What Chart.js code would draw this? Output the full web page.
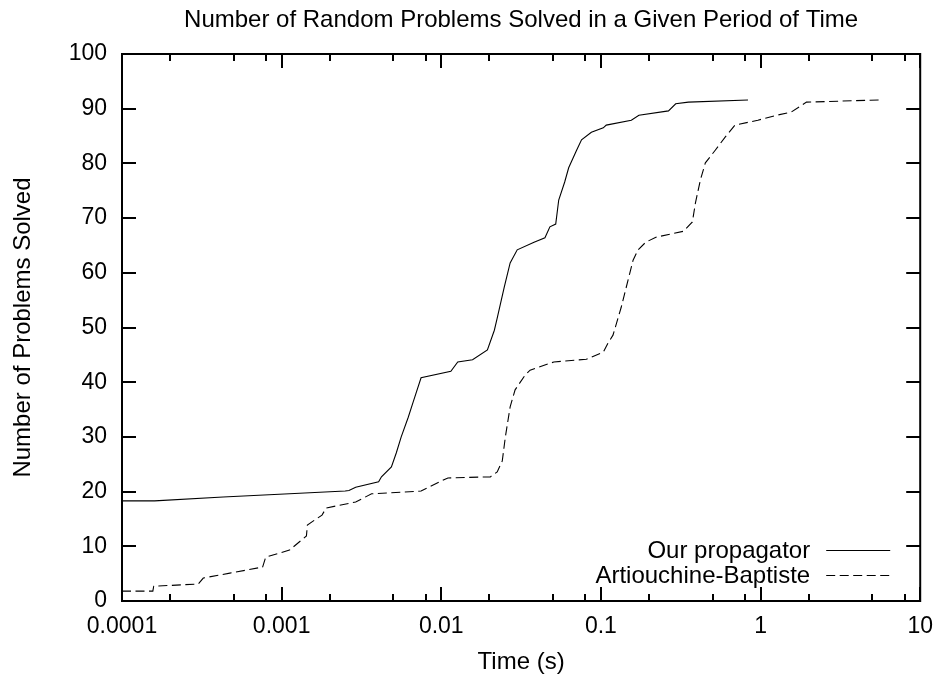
<!DOCTYPE html>
<html><head><meta charset="utf-8">
<script src="https://cdn.jsdelivr.net/npm/chart.js@4.4.0/dist/chart.umd.min.js"></script>
<style>html,body{margin:0;padding:0;background:#fff;} #wrap{width:945px;height:677px;position:relative;}</style>
</head><body><div id="wrap"><canvas id="c" width="945" height="677"></canvas></div>
<script>
const chartTitle = "Number of Random Problems Solved in a Given Period of Time";
const xAxisTitle = "Time (s)";
const yAxisTitle = "Number of Problems Solved";
const seriesNames = ["Our propagator", "Artiouchine-Baptiste"];

const oursTime = [0.0001, 0.00016, 0.00043, 0.00112, 0.0025, 0.00264, 0.00291, 0.00405, 0.00422, 0.00487, 0.00523, 0.00561, 0.00621, 0.00667, 0.00747, 0.01148, 0.01268, 0.0157, 0.01945, 0.0215, 0.0224, 0.0248, 0.0270, 0.0299, 0.0381, 0.0446, 0.0479, 0.0521, 0.0544, 0.0593, 0.0628, 0.0704, 0.0756, 0.0871, 0.1035, 0.108, 0.155, 0.173, 0.265, 0.294, 0.353, 0.834];
const oursSolved = [18.3, 18.3, 19.0, 19.6, 20.1, 20.2, 20.8, 21.8, 22.7, 24.5, 27.1, 30.0, 33.6, 36.4, 40.8, 42.0, 43.7, 44.1, 45.9, 49.5, 51.7, 57.4, 61.8, 64.2, 65.6, 66.4, 68.4, 68.9, 73.3, 76.6, 79.2, 82.4, 84.3, 85.7, 86.5, 87.0, 87.9, 88.8, 89.6, 90.9, 91.2, 91.6];

const abTime = [0.0001, 0.000156, 0.000158, 0.000300, 0.000323, 0.000474, 0.00076, 0.000794, 0.00112, 0.00143, 0.00145, 0.00179, 0.00190, 0.00291, 0.00366, 0.00747, 0.00995, 0.0110, 0.0203, 0.0224, 0.0241, 0.0252, 0.0270, 0.0290, 0.0335, 0.0360, 0.0507, 0.081, 0.1035, 0.111, 0.119, 0.134, 0.148, 0.159, 0.171, 0.191, 0.221, 0.329, 0.374, 0.391, 0.420, 0.451, 0.520, 0.600, 0.692, 0.962, 1.26, 1.56, 1.94, 5.65];
const abSolved = [1.8, 1.8, 2.7, 3.1, 4.2, 5.1, 6.2, 8.0, 9.3, 11.9, 13.9, 15.7, 17.0, 18.1, 19.6, 20.1, 21.9, 22.5, 22.7, 23.6, 25.6, 30.0, 35.5, 38.6, 41.3, 42.2, 43.7, 44.2, 45.5, 47.2, 48.6, 53.7, 58.7, 62.3, 64.2, 65.6, 66.5, 67.6, 69.3, 72.8, 77.0, 80.1, 82.4, 84.8, 87.0, 87.9, 88.8, 89.4, 91.2, 91.6];

const xTickValues = [0.0001, 0.001, 0.01, 0.1, 1, 10];
const xTickLabels = ["0.0001", "0.001", "0.01", "0.1", "1", "10"];
const xMinorFactors = [2, 5, 8];
const yTickValues = [0, 10, 20, 30, 40, 50, 60, 70, 80, 90, 100];
const yTickLabels = ["0", "10", "20", "30", "40", "50", "60", "70", "80", "90", "100"];

const FONT = '"Liberation Sans", Arial, sans-serif';
Chart.defaults.font.family = FONT;
Chart.defaults.font.size = 23;
Chart.defaults.color = '#000';

function toPoints(xs, ys) { return xs.map((v, i) => ({x: v, y: ys[i]})); }

const framePlugin = {
  id: 'frame',
  afterDatasetsDraw(chart) {
    const {ctx, chartArea: a, scales: {x, y}} = chart;
    ctx.save();
    ctx.strokeStyle = '#000';
    ctx.lineWidth = 2;
    const major = 14, minor = 7;
    ctx.beginPath();
    xTickValues.forEach((v, i) => {
      const px = Math.round(x.getPixelForValue(v));
      ctx.moveTo(px, a.bottom); ctx.lineTo(px, a.bottom - major);
      ctx.moveTo(px, a.top); ctx.lineTo(px, a.top + major);
      if (i < xTickValues.length - 1) {
        xMinorFactors.forEach(f => {
          const mx = Math.round(x.getPixelForValue(v * f));
          ctx.moveTo(mx, a.bottom); ctx.lineTo(mx, a.bottom - minor);
          ctx.moveTo(mx, a.top); ctx.lineTo(mx, a.top + minor);
        });
      }
    });
    yTickValues.forEach(v => {
      const py = Math.round(y.getPixelForValue(v));
      ctx.moveTo(a.left, py); ctx.lineTo(a.left + major, py);
      ctx.moveTo(a.right, py); ctx.lineTo(a.right - major, py);
    });
    ctx.stroke();
    ctx.strokeRect(a.left, a.top, a.right - a.left, a.bottom - a.top);

    // title
    ctx.fillStyle = '#000';
    ctx.font = '24px ' + FONT;
    ctx.textAlign = 'center';
    ctx.textBaseline = 'middle';
    ctx.fillText(chartTitle, (a.left + a.right) / 2, 20);

    // legend (inside, bottom right)
    ctx.textAlign = 'right';
    const rows = [a.bottom - 51, a.bottom - 26];
    chart.data.datasets.forEach((ds, i) => {
      const ly = rows[i];
      ctx.fillText(ds.label, a.right - 110, ly + 1);
      ctx.beginPath();
      ctx.lineWidth = ds.borderWidth;
      ctx.setLineDash(ds.borderDash || []);
      ctx.moveTo(a.right - 94, ly + 0.5);
      ctx.lineTo(a.right - 30, ly + 0.5);
      ctx.stroke();
      ctx.setLineDash([]);
    });
    ctx.restore();
  }
};

new Chart(document.getElementById('c'), {
  type: 'scatter',
  data: {
    datasets: [
      { label: seriesNames[0], data: toPoints(oursTime, oursSolved), showLine: true, borderColor: '#000', borderWidth: 1.1, pointRadius: 0, tension: 0, fill: false },
      { label: seriesNames[1], data: toPoints(abTime, abSolved), showLine: true, borderColor: '#000', borderWidth: 1.1, borderDash: [9, 4.5], pointRadius: 0, tension: 0, fill: false }
    ]
  },
  options: {
    responsive: false,
    animation: false,
    devicePixelRatio: 1,
    layout: { padding: { top: 54, right: 18, left: 0, bottom: 0 } },
    plugins: { legend: { display: false }, tooltip: { enabled: false }, title: { display: false } },
    scales: {
      x: {
        type: 'logarithmic', min: 0.0001, max: 10,
        afterBuildTicks: s => { s.ticks = xTickValues.map(v => ({ value: v })); },
        afterFit: s => { s.height = 76; },
        ticks: { callback: (v, i) => xTickLabels[i], autoSkip: false, maxRotation: 0, padding: 12, color: '#000', font: { size: 23 } },
        grid: { display: false, drawTicks: false },
        border: { display: false },
        title: { display: true, text: xAxisTitle, color: '#000', font: { size: 24 }, padding: { top: 0, bottom: 0 } }
      },
      y: {
        type: 'linear', min: 0, max: 100,
        afterBuildTicks: s => { s.ticks = yTickValues.map(v => ({ value: v })); },
        afterFit: s => { s.width = 122; },
        ticks: { callback: (v, i) => yTickLabels[i], autoSkip: false, padding: 15, color: '#000', font: { size: 23 } },
        grid: { display: false, drawTicks: false },
        border: { display: false },
        title: { display: true, text: yAxisTitle, color: '#000', font: { size: 24 }, padding: { top: 9, bottom: 0 } }
      }
    }
  },
  plugins: [framePlugin]
});
</script></body></html>
